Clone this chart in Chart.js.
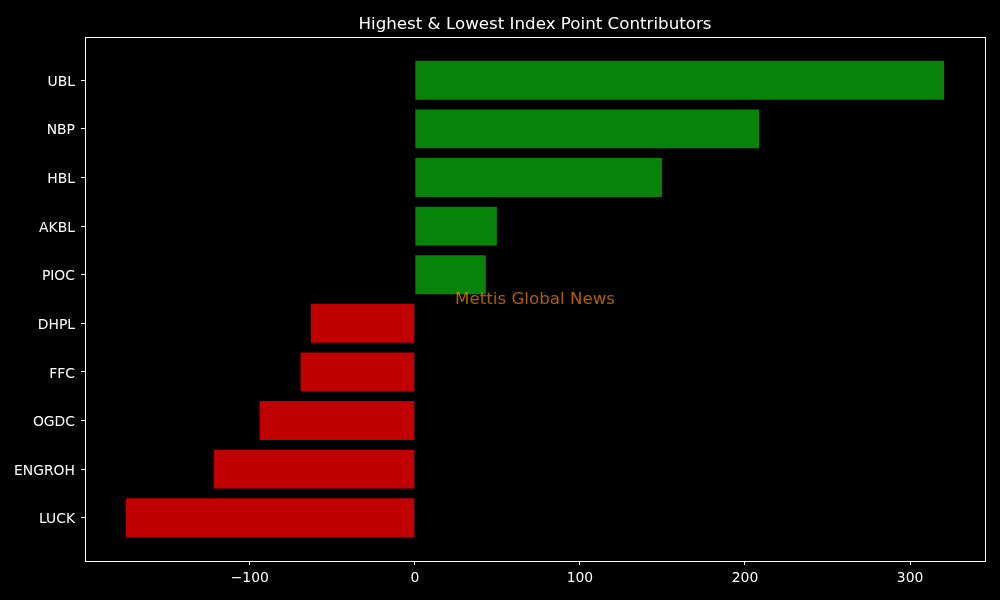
<!DOCTYPE html>
<html>
<head>
<meta charset="utf-8">
<script src="https://cdn.jsdelivr.net/npm/chart.js@4"></script>
<style>
  html, body { margin: 0; padding: 0; background: #000; }
  #wrap { width: 1000px; height: 600px; }
</style>
</head>
<body>
<div id="wrap"><canvas id="chart" width="1000" height="600"></canvas></div>
<script>
const categories = ['UBL', 'NBP', 'HBL', 'AKBL', 'PIOC', 'DHPL', 'FFC', 'OGDC', 'ENGROH', 'LUCK'];
const points = [320.6, 208.5, 149.7, 49.7, 43.0, -63.0, -69.2, -94.0, -121.8, -175.0];
const xTicks = [-100, 0, 100, 200, 300];
const titleText = 'Highest & Lowest Index Point Contributors';
const watermark = 'Mettis Global News';

const FONT = 'DejaVu Sans';

// spines, title and watermark drawn by hand
const decor = {
  id: 'decor',
  afterDraw(chart) {
    const { ctx, chartArea: a } = chart;
    ctx.save();
    ctx.strokeStyle = '#ffffff';
    ctx.lineWidth = 1;
    ctx.strokeRect(Math.round(a.left) + 0.5, Math.round(a.top) + 0.5,
      Math.round(a.right - a.left), Math.round(a.bottom - a.top));
    const cx = (a.left + a.right) / 2;
    ctx.fillStyle = '#ffffff';
    ctx.font = '16.7px "' + FONT + '"';
    ctx.textAlign = 'center';
    ctx.textBaseline = 'middle';
    ctx.fillText(titleText, cx, 25);
    ctx.fillStyle = 'rgba(255,140,0,0.68)';
    ctx.fillText(watermark, cx, (a.top + a.bottom) / 2 + 1);
    ctx.restore();
  }
};

new Chart(document.getElementById('chart'), {
  type: 'bar',
  data: {
    datasets: [{
      data: points.map((v, i) => ({ x: v, y: i })),
      backgroundColor: points.map(v => v >= 0 ? '#08830a' : '#c00000'),
      borderWidth: 0,
      barPercentage: 0.8,
      categoryPercentage: 1.0
    }]
  },
  options: {
    indexAxis: 'y',
    responsive: false,
    animation: false,
    layout: { padding: { top: 37, right: 15, left: 0, bottom: 0 } },
    plugins: { legend: { display: false }, tooltip: { enabled: false } },
    scales: {
      x: {
        type: 'linear',
        min: -199.8,
        max: 345.4,
        afterBuildTicks: s => { s.ticks = xTicks.map(v => ({ value: v })); },
        afterFit: s => { s.height = 39; },
        grid: { drawOnChartArea: false, color: '#ffffff', tickLength: 4, tickWidth: 1 },
        border: { display: false },
        ticks: {
          color: '#ffffff',
          font: { family: FONT, size: 13.9 },
          padding: 5,
          maxRotation: 0,
          callback: v => String(v).replace('-', '\u2212')
        }
      },
      y: {
        type: 'linear',
        reverse: true,
        offset: false,
        min: -0.89,
        max: 9.89,
        afterBuildTicks: s => { s.ticks = categories.map((_, i) => ({ value: i })); },
        afterFit: s => { s.width = 85; },
        grid: { offset: false, drawOnChartArea: false, color: '#ffffff', tickLength: 4, tickWidth: 1 },
        border: { display: false },
        ticks: {
          color: '#ffffff',
          font: { family: FONT, size: 13.9 },
          padding: 6,
          labelOffset: 2,
          callback: v => categories[v] ?? ''
        }
      }
    }
  },
  plugins: [decor]
});
</script>
</body>
</html>
